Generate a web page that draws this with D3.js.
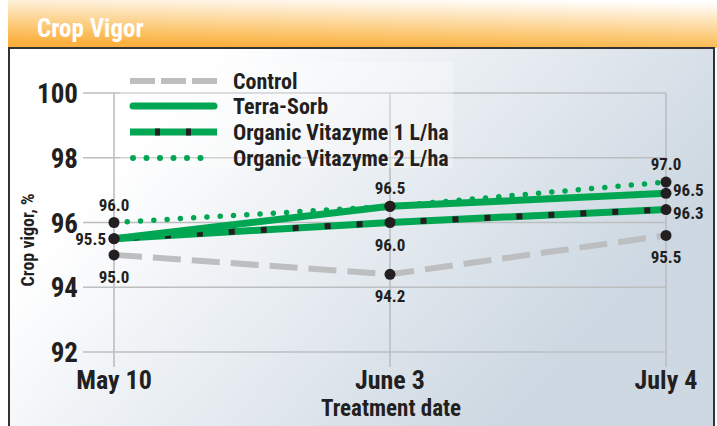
<!DOCTYPE html>
<html>
<head>
<meta charset="utf-8">
<script src="https://cdn.jsdelivr.net/npm/d3@7"></script>
<style>
  body { margin: 0; background: #fff; }
  svg { display: block; }
  text { font-family: "Liberation Sans Narrow", "Roboto Condensed", "DejaVu Sans Condensed", sans-serif; font-weight: bold; fill: #231f20; }
</style>
</head>
<body>
<svg id="canvas" width="717" height="426"></svg>
<script>
'use strict';

/* categories along the bottom axis */
const dates = ['May 10', 'June 3', 'July 4'];
/* y axis ticks */
const yTicks = [92, 94, 96, 98, 100];

/* series values, as plotted in the picture */
const control = [95.0, 94.4, 95.6];
const terraSorb = [95.5, 96.5, 96.9];
const vitazyme1 = [95.5, 96.0, 96.4];
const vitazyme2 = [96.0, 96.5, 97.25];

/* the printed point labels */
const labelText = ['96.0', '95.5', '95.0', '96.5', '96.0', '94.2', '97.0', '96.5', '96.3', '95.5'];
const labelValue = [96.0, 95.5, 95.0, 96.5, 96.0, 94.4, 97.25, 96.9, 96.4, 95.6];
const labelDate = ['May 10', 'May 10', 'May 10', 'June 3', 'June 3', 'June 3', 'July 4', 'July 4', 'July 4', 'July 4'];
const labelPos = ['above', 'left', 'below', 'above', 'below', 'below', 'above', 'rightHigh', 'rightLow', 'below'];

const legendNames = ['Control', 'Terra-Sorb', 'Organic Vitazyme 1 L/ha', 'Organic Vitazyme 2 L/ha'];

const green = '#00a651';
const grey = '#bcbec0';

const svg = d3.select('svg#canvas');
const defs = svg.append('defs');

/* header band: orange fading into white */
let hg = defs.append('linearGradient').attr('id', 'hdr')
  .attr('x1', '0.52').attr('y1', '1').attr('x2', '0.78').attr('y2', '0');
hg.append('stop').attr('offset', '0').attr('stop-color', '#fbb040');
hg.append('stop').attr('offset', '0.25').attr('stop-color', '#fcc46a');
hg.append('stop').attr('offset', '1').attr('stop-color', '#ffffff');

/* panel background: white to pale blue-grey */
let pg = defs.append('linearGradient').attr('id', 'bg')
  .attr('x1', '0.3').attr('y1', '0').attr('x2', '1').attr('y2', '0.35');
pg.append('stop').attr('offset', '0').attr('stop-color', '#ffffff');
pg.append('stop').attr('offset', '1').attr('stop-color', '#cdd8e2');

svg.append('rect').attr('x', 8).attr('y', 0).attr('width', 709).attr('height', 48).attr('fill', 'url(#hdr)');
svg.append('text').attr('x', 37).attr('y', 37)
  .style('font-size', '25px').style('fill', '#fff')
  .text('Crop Vigor');

svg.append('rect').attr('x', 9).attr('y', 48).attr('width', 705).attr('height', 390)
  .attr('fill', 'url(#bg)').attr('stroke', '#333').attr('stroke-width', 2);

/* scales */
const x = d3.scalePoint().domain(dates).range([114, 666]);
const y = d3.scaleLinear().domain([92, 100]).range([352, 93]);

const grid = svg.append('g').attr('id', 'grid');
grid.selectAll('line.h').data(yTicks).enter().append('line')
  .attr('x1', 83).attr('x2', 666)
  .attr('y1', d => y(d)).attr('y2', d => y(d))
  .attr('stroke', grey).attr('stroke-width', 1.6);
grid.selectAll('line.v').data(dates).enter().append('line')
  .attr('x1', d => x(d)).attr('x2', d => x(d))
  .attr('y1', y(100)).attr('y2', y(92) + 15)
  .attr('stroke', grey).attr('stroke-width', 1.6);

/* faint legend backdrop */
svg.append('rect').attr('x', 120).attr('y', 62).attr('width', 333).attr('height', 106)
  .attr('fill', '#fff').attr('opacity', 0.3);

/* axes labels */
grid.selectAll('text.yt').data(yTicks).enter().append('text')
  .attr('x', 78).attr('y', d => y(d) + 10)
  .style('text-anchor', 'end').style('font-size', '27px')
  .text(d => d);
grid.selectAll('text.xt').data(dates).enter().append('text')
  .attr('x', d => x(d)).attr('y', 389)
  .style('text-anchor', 'middle').style('font-size', '26px')
  .text(d => d);
svg.append('text').attr('x', 391).attr('y', 416)
  .style('text-anchor', 'middle').style('font-size', '23px')
  .text('Treatment date');
svg.append('text').attr('transform', 'translate(34,240) rotate(-90)')
  .style('text-anchor', 'middle').style('font-size', '18px')
  .text('Crop vigor, %');

/* lines */
const line = d3.line().x((d, i) => x(dates[i])).y(d => y(d));
const plot = svg.append('g').attr('id', 'plot');

plot.append('path').attr('d', line(control)).attr('fill', 'none')
  .attr('stroke', grey).attr('stroke-width', 6).attr('stroke-dasharray', '28 11');
plot.append('path').attr('d', line(vitazyme1)).attr('fill', 'none')
  .attr('stroke', green).attr('stroke-width', 7);
plot.append('path').attr('d', line(vitazyme1)).attr('fill', 'none')
  .attr('stroke', '#231f20').attr('stroke-width', 6).attr('stroke-dasharray', '6 26').attr('stroke-dashoffset', -19);
plot.append('path').attr('d', line(terraSorb)).attr('fill', 'none')
  .attr('stroke', green).attr('stroke-width', 7);
plot.append('path').attr('d', line(vitazyme2)).attr('fill', 'none')
  .attr('stroke', green).attr('stroke-width', 5.5).attr('stroke-linecap', 'round')
  .attr('stroke-dasharray', '0 13.3').attr('stroke-dashoffset', -13.3);

/* black markers */
const all = [control, terraSorb, vitazyme1, vitazyme2];
all.forEach(s => {
  plot.selectAll(null).data(s).enter().append('circle')
    .attr('cx', (d, i) => x(dates[i])).attr('cy', d => y(d)).attr('r', 5.5)
    .attr('fill', '#231f20');
});

/* point labels */
plot.selectAll('text.pl').data(labelText).enter().append('text')
  .attr('x', (d, i) => {
    let cx = x(labelDate[i]);
    if (labelPos[i] == 'left') return cx - 8;
    if (labelPos[i].startsWith('right')) return cx + 7;
    return cx;
  })
  .attr('y', (d, i) => {
    let cy = y(labelValue[i]);
    if (labelPos[i] == 'above') return cy - 12;
    if (labelPos[i] == 'below') return cy + 28;
    if (labelPos[i] == 'rightHigh') return cy + 3;
    if (labelPos[i] == 'rightLow') return cy + 9;
    return cy + 6;
  })
  .style('text-anchor', (d, i) => labelPos[i] == 'left' ? 'end' : (labelPos[i].startsWith('right') ? 'start' : 'middle'))
  .style('font-size', '17px')
  .text(d => d);

/* legend */
const legend = svg.append('g').attr('id', 'legend');
const rowY = [81, 106, 132, 158];
legend.append('line').attr('x1', 130).attr('x2', 217).attr('y1', rowY[0]).attr('y2', rowY[0])
  .attr('stroke', grey).attr('stroke-width', 6).attr('stroke-dasharray', '25 6');
legend.append('line').attr('x1', 133).attr('x2', 214).attr('y1', rowY[1]).attr('y2', rowY[1])
  .attr('stroke', green).attr('stroke-width', 7).attr('stroke-linecap', 'round');
legend.append('line').attr('x1', 130).attr('x2', 217).attr('y1', rowY[2]).attr('y2', rowY[2])
  .attr('stroke', green).attr('stroke-width', 7);
legend.append('line').attr('x1', 130).attr('x2', 217).attr('y1', rowY[2]).attr('y2', rowY[2])
  .attr('stroke', '#231f20').attr('stroke-width', 7).attr('stroke-dasharray', '0 25 5 26 5 100');
legend.append('line').attr('x1', 133).attr('x2', 214).attr('y1', rowY[3]).attr('y2', rowY[3])
  .attr('stroke', green).attr('stroke-width', 6).attr('stroke-linecap', 'round')
  .attr('stroke-dasharray', '0 13.5');
legend.selectAll('text').data(legendNames).enter().append('text')
  .attr('x', 233).attr('y', (d, i) => rowY[i] + 8)
  .style('font-size', '22px')
  .text(d => d);
</script>
</body>
</html>
